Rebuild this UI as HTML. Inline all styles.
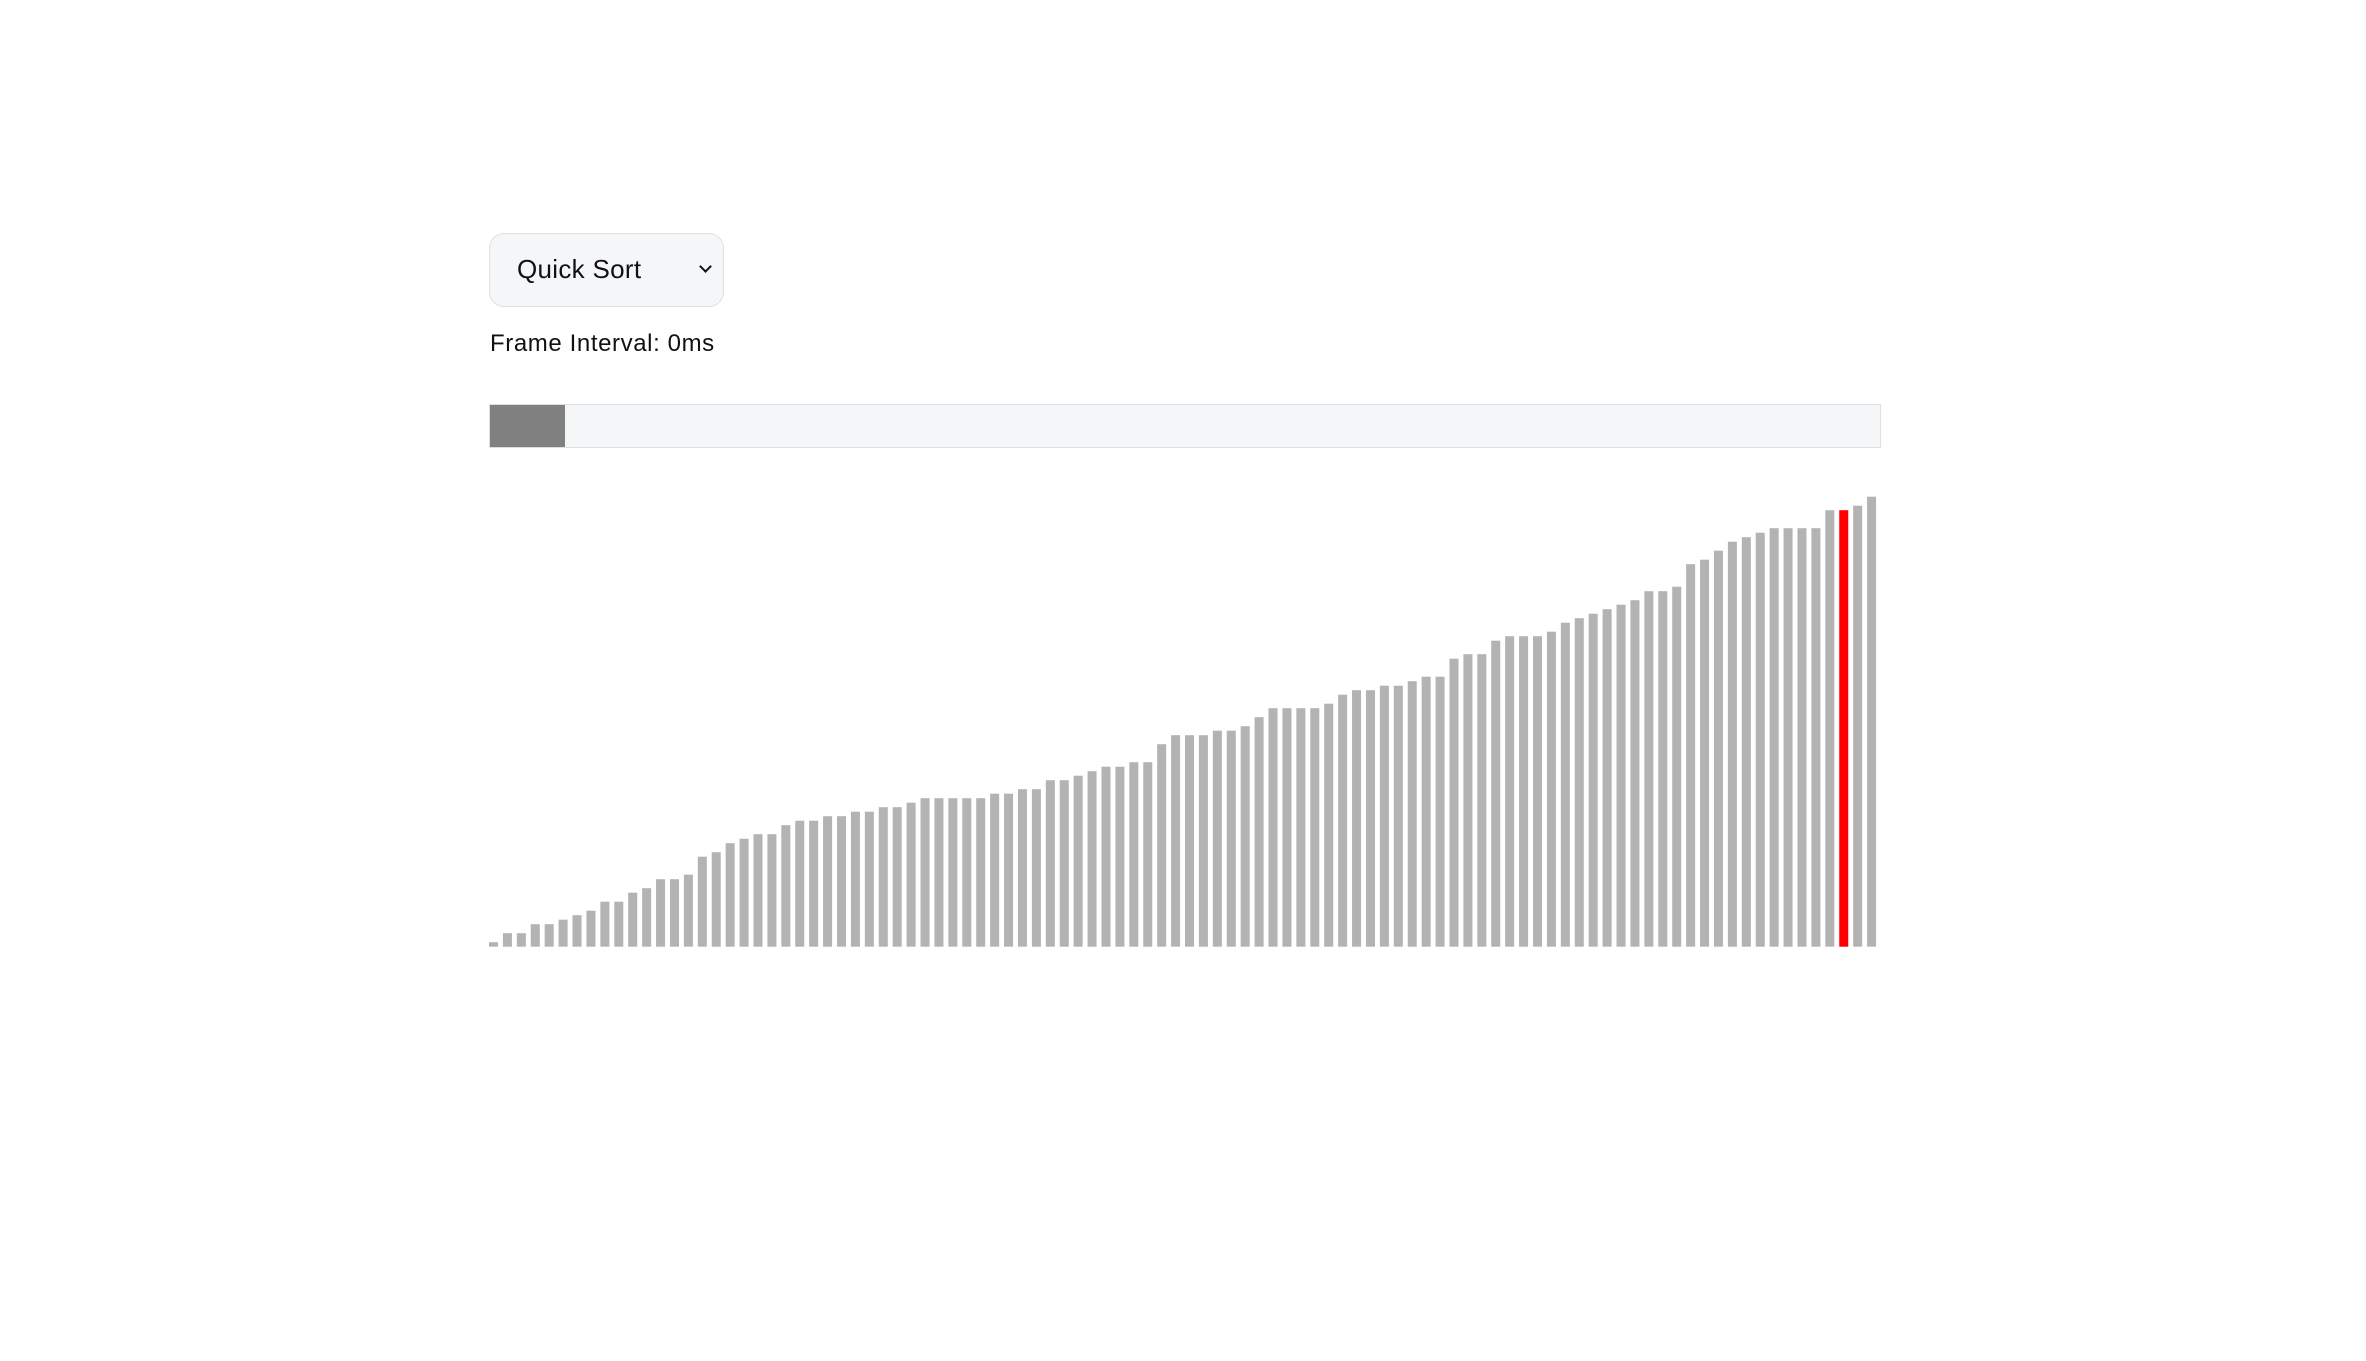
<!DOCTYPE html>
<html><head><meta charset="utf-8"><style>
body{margin:0;width:2366px;height:1361px;background:#fff;position:relative;overflow:hidden;font-family:"Liberation Sans",sans-serif;}
#sel{position:absolute;left:489px;top:233px;width:233px;height:72px;border:1px solid #e0e0e2;border-radius:15px;background:#f5f6f8;}
#sel span{position:absolute;left:27px;top:20px;font-size:26px;color:#111;letter-spacing:0.3px;}
#chev{position:absolute;left:211px;top:28px;width:7px;height:7px;border-right:2.5px solid #111;border-bottom:2.5px solid #111;transform:rotate(45deg);}
#lbl{position:absolute;left:490px;top:330px;font-size:24px;color:#111;letter-spacing:0.6px;}
#prog{position:absolute;left:489px;top:404px;width:1390px;height:42px;border:1px solid #dedfe2;background:#f5f6f8;}
#fill{position:absolute;left:0;top:0;width:75px;height:42px;background:#808080;}
svg{position:absolute;left:0;top:0;}
</style></head><body>
<div id="sel"><span>Quick Sort</span><div id="chev"></div></div>
<div id="lbl">Frame Interval: 0ms</div>
<div id="prog"><div id="fill"></div></div>
<svg id="chart" width="2366" height="1361"></svg>
<script>
const values=[1,3,3,5,5,6,7,8,10,10,12,13,15,15,16,20,21,23,24,25,25,
27,28,28,29,29,30,30,31,31,32,33,33,33,33,33,34,34,35,35,37,37,38,39,
40,40,41,41,45,47,47,47,48,48,49,51,53,53,53,53,54,56,57,57,58,
58,59,60,60,64,65,65,68,69,69,69,70,72,73,74,75,76,77,79,79,80,85,
86,88,90,91,92,93,93,93,93,97,97,98,100];
const highlighted=[97];
const maxValue=100;
const x0=489,x1=1881,baseY=946.7,plotH=450;
function xPos(i){return x0+i*(x1-x0)/values.length;}
function yH(v){return v/maxValue*plotH;}
const svg=document.getElementById('chart');
const bw=(x1-x0)/values.length-4.9;
values.forEach((v,i)=>{
 const r=document.createElementNS('http://www.w3.org/2000/svg','rect');
 r.setAttribute('x',xPos(i));
 r.setAttribute('y',baseY-yH(v));
 r.setAttribute('width',bw);
 r.setAttribute('height',yH(v));
 r.setAttribute('fill',highlighted.includes(i)?'#ff0000':'#b3b3b3');
 
 
 svg.appendChild(r);
});
</script>
</body></html>
